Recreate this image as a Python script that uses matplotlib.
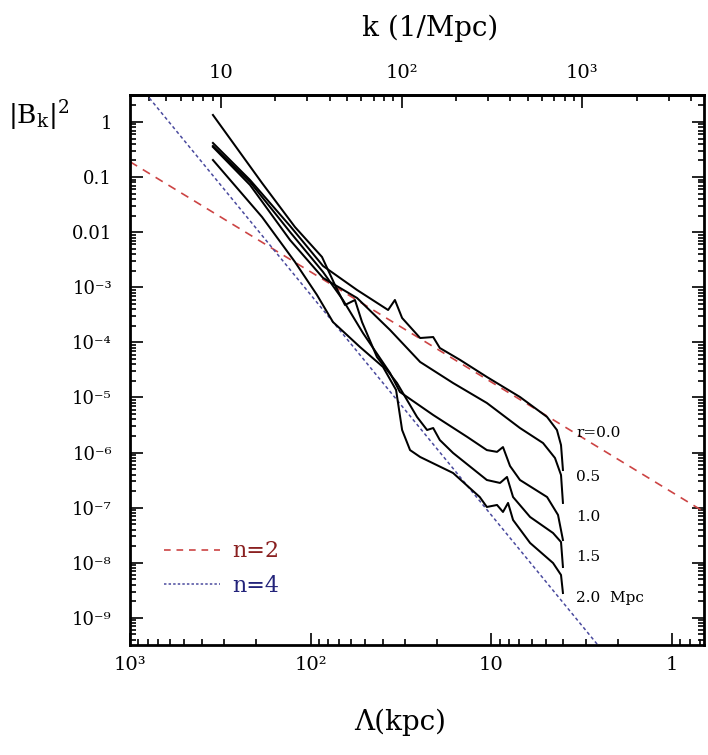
import numpy as np
import matplotlib
matplotlib.use("Agg")
import matplotlib.pyplot as plt
from matplotlib.ticker import LogLocator, FuncFormatter, NullFormatter
from matplotlib.lines import Line2D

# ---------------- data (Lambda in kpc, |B_k|^2) ----------------
lam_r00 = [347.5, 216.7, 130.2, 85.5, 55.4, 37.3, 34.2, 31.2, 24.8, 21.0, 19.3,
           14.9, 10.6, 6.95, 4.92, 4.34, 4.12, 4.02]
b_r00 = [0.416, 0.0886, 0.0130, 0.00244, 8.93e-4, 3.87e-4, 5.88e-4, 2.77e-4,
         1.20e-4, 1.25e-4, 7.91e-5, 4.80e-5, 2.36e-5, 1.02e-5, 4.43e-6, 2.57e-6,
         1.37e-6, 4.83e-7]

lam_r05 = [347.5, 216.7, 130.2, 85.5, 55.4, 36.4, 24.8, 16.3, 10.6, 6.95, 5.18,
           4.45, 4.12, 4.02]
b_r05 = [0.352, 0.0719, 0.00722, 0.00148, 6.39e-4, 1.68e-4, 4.41e-5, 1.83e-5,
         7.95e-6, 2.79e-6, 1.49e-6, 7.98e-7, 3.92e-7, 1.22e-7]

lam_r10 = [347.5, 216.7, 130.2, 85.5, 66.3, 51.4, 36.4, 32.1, 21.0, 13.6, 10.6,
           9.31, 8.63, 7.89, 6.95, 4.92, 4.28, 4.02]
b_r10 = [0.367, 0.0815, 0.0101, 0.00190, 5.88e-4, 1.48e-4, 2.79e-5, 1.26e-5,
         4.81e-6, 1.92e-6, 1.11e-6, 1.03e-6, 1.26e-6, 5.71e-7, 3.18e-7, 1.56e-7,
         7.38e-8, 2.59e-8]

lam_r15 = [347.5, 186.0, 122.2, 86.6, 73.4, 64.6, 56.9, 52.0, 43.0, 33.3, 25.8,
           22.7, 21.0, 19.3, 16.3, 10.6, 8.96, 8.20, 7.59, 6.11, 4.56, 4.12, 4.02]
b_r15 = [1.34, 0.0782, 0.0124, 0.00355, 0.00110, 4.77e-4, 5.88e-4, 2.34e-4,
         5.43e-5, 1.83e-5, 4.43e-6, 2.57e-6, 2.79e-6, 1.69e-6, 9.84e-7, 3.18e-7,
         2.81e-7, 3.61e-7, 1.56e-7, 6.78e-8, 3.47e-8, 2.38e-8, 8.39e-9]

lam_r20 = [347.5, 186.0, 122.2, 92.3, 75.3, 53.4, 39.8, 33.7, 31.2, 28.2, 24.8,
           16.3, 11.6, 10.6, 9.31, 8.63, 8.09, 7.59, 6.11, 4.56, 4.12, 4.02]
b_r20 = [0.204, 0.0189, 0.00288, 7.25e-4, 2.34e-4, 8.26e-5, 3.58e-5, 1.37e-5,
         2.57e-6, 1.11e-6, 8.32e-7, 4.26e-7, 1.56e-7, 1.03e-7, 1.12e-7, 8.36e-8,
         1.22e-7, 5.98e-8, 2.29e-8, 9.91e-9, 6.01e-9, 2.83e-9]

curve_labels = ["r=0.0", "0.5", "1.0", "1.5", "2.0  Mpc"]

# guide power laws (n=2, n=4) evaluated at two end points
lam_guide = [1000.0, 0.5]
b_n2 = [0.19, 4.75e-8]
b_n4 = [7.3, 4.56e-13]
legend_labels = ["n=2", "n=4"]

x_ticks_bottom = [1000, 100, 10, 1]
x_ticklabels_bottom = ["10³", "10²", "10", "1"]
k_ticks_top = [10, 100, 1000]
k_ticklabels_top = ["10", "10²", "10³"]
y_ticks = [1, 0.1, 0.01, 1e-3, 1e-4, 1e-5, 1e-6, 1e-7, 1e-8, 1e-9]
y_ticklabels = ["1", "0.1", "0.01", "10⁻³", "10⁻⁴", "10⁻⁵", "10⁻⁶", "10⁻⁷",
                "10⁻⁸", "10⁻⁹"]

# ---------------- figure ----------------
plt.rcParams["font.family"] = ["DejaVu Serif"]
fig = plt.figure(figsize=(7.08, 7.55), dpi=100)
ax = fig.add_axes([0.1836, 0.1457, 0.8108, 0.7285])

red = "#cc4444"
blue = "#4a4a9e"

ax.plot(lam_guide, b_n2, color=red, lw=1.2, dashes=(5, 4))
ax.plot(lam_guide, b_n4, color=blue, lw=1.1, dashes=(2.2, 1.8))

for lam, b in [(lam_r00, b_r00), (lam_r05, b_r05), (lam_r10, b_r10),
               (lam_r15, b_r15), (lam_r20, b_r20)]:
    ax.plot(lam, b, color="black", lw=1.45)

ax.set_xscale("log")
ax.set_yscale("log")
ax.set_xlim(1000, 0.666)
ax.set_ylim(3.22e-10, 3.09)

ax.xaxis.set_major_locator(LogLocator(base=10, numticks=20))
ax.xaxis.set_minor_locator(LogLocator(base=10, subs=np.arange(2, 10), numticks=100))
ax.yaxis.set_major_locator(LogLocator(base=10, numticks=30))
ax.yaxis.set_minor_locator(LogLocator(base=10, subs=np.arange(2, 10), numticks=200))

xmap = dict(zip(x_ticks_bottom, x_ticklabels_bottom))
ymap = dict(zip(y_ticks, y_ticklabels))


def fmt_from(mapping):
    def f(v, pos):
        for key, lab in mapping.items():
            if abs(np.log10(v) - np.log10(key)) < 1e-6:
                return lab
        return ""
    return f


ax.xaxis.set_major_formatter(FuncFormatter(fmt_from(xmap)))
ax.xaxis.set_minor_formatter(NullFormatter())
ax.yaxis.set_major_formatter(FuncFormatter(fmt_from(ymap)))
ax.yaxis.set_minor_formatter(NullFormatter())

ax.tick_params(which="both", direction="in", right=True, top=False, width=1.2)
ax.tick_params(which="major", length=9)
ax.tick_params(which="minor", length=4.5)
ax.tick_params(axis="y", which="major", labelsize=13, pad=13)
ax.tick_params(axis="x", which="major", labelsize=14, pad=8)
for s in ax.spines.values():
    s.set_linewidth(2.0)


def lam2k(x):
    x = np.asarray(x, dtype=float)
    return 1000.0 * np.pi / np.where(x == 0, 1e-12, x)


sec = ax.secondary_xaxis("top", functions=(lam2k, lam2k))
sec.xaxis.set_major_locator(LogLocator(base=10, numticks=20))
sec.xaxis.set_minor_locator(LogLocator(base=10, subs=np.arange(2, 10), numticks=100))
sec.xaxis.set_major_formatter(FuncFormatter(fmt_from(dict(zip(k_ticks_top, k_ticklabels_top)))))
sec.xaxis.set_minor_formatter(NullFormatter())
sec.tick_params(which="both", direction="in", width=1.2)
sec.tick_params(which="major", length=9, labelsize=14, pad=9)
sec.tick_params(which="minor", length=4.5)
sec.spines["top"].set_linewidth(2.0)

# axis titles
fig.text(0.607, 0.963, "k (1/Mpc)", ha="center", va="center", fontsize=20)
fig.text(0.565, 0.043, "Λ(kpc)", ha="center", va="center", fontsize=20)
fig.text(0.012, 0.847, r"$|\mathrm{B}_{\mathrm{k}}|^2$", ha="left", va="center",
         fontsize=19, math_fontfamily="dejavuserif")

# curve labels
label_y = [0.385, 0.305, 0.233, 0.160, 0.0855]
for lab, yy in zip(curve_labels, label_y):
    ax.text(0.777, yy, lab, transform=ax.transAxes, fontsize=11,
            ha="left", va="center")

# legend
handles = [Line2D([], [], color=red, lw=1.2, dashes=(4, 3.5)),
           Line2D([], [], color=blue, lw=1.1, dashes=(1.6, 1.4))]
ax.legend(handles, legend_labels, loc="upper left", bbox_to_anchor=(0.06, 0.19),
          frameon=False, fontsize=16, handlelength=2.5, handletextpad=0.55,
          labelspacing=0.55, borderpad=0, borderaxespad=0,
          labelcolor=["#8a2020", "#23237a"])

fig.savefig("out.png", dpi=100)
